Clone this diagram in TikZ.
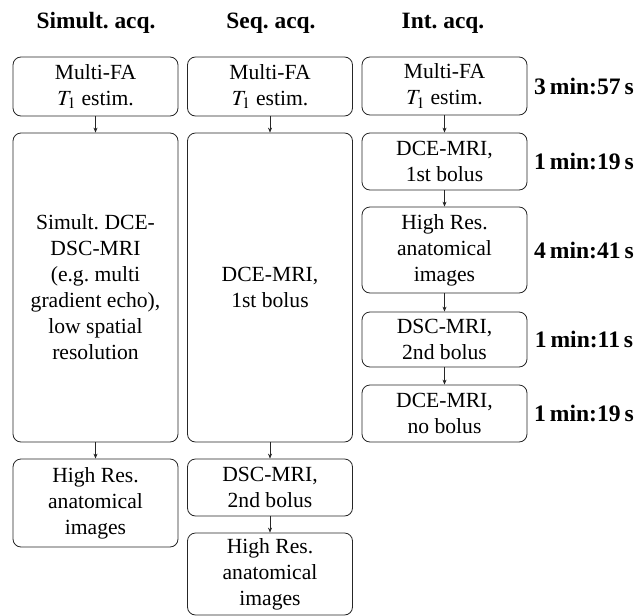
\documentclass[tikz,border=0pt]{standalone}
\usepackage{mathptmx}
\usepackage{fontspec}
\setmainfont{Liberation Serif}
\usetikzlibrary{arrows.meta}
\begin{document}
\begin{tikzpicture}[x=1pt,y=-1pt,
  box/.style={draw=black!85, line width=0.8pt, rounded corners=8pt, minimum width=165pt, inner sep=0pt, align=center, font=\fontsize{21.6}{26}\selectfont},
  hdr/.style={font=\fontsize{23.4}{28}\selectfont\bfseries},
  tm/.style={font=\fontsize{23.6}{28}\selectfont\bfseries},
  arr/.style={-{Stealth[length=5pt,width=4pt]}, line width=0.6pt, draw=black!85}]
\useasboundingbox (0,0) rectangle (638,616);
% headers
\node[hdr] (h1) at (96,23) {Simult.\ acq.};
\node[hdr] (h2) at (271,23) {Seq.\ acq.};
\node[hdr] (h3) at (443,23) {Int.\ acq.};
% column 1
\node[box, minimum height=59pt] (A1) at (95.5,86.5) {Multi-FA\\$T_1$ estim.};
\node[box, minimum height=309pt] (A2) at (95.5,287.5) {Simult.\ DCE-\\DSC-MRI\\(e.g.\ multi\\gradient echo),\\low spatial\\resolution};
\node[box, minimum height=88pt] (A3) at (95.5,503) {High Res.\\anatomical\\images};
% column 2
\node[box, minimum height=59pt] (B1) at (270,86.5) {Multi-FA\\$T_1$ estim.};
\node[box, minimum height=309pt] (B2) at (270,287.5) {DCE-MRI,\\1st bolus};
\node[box, minimum height=57pt] (B3) at (270,487.5) {DSC-MRI,\\2nd bolus};
\node[box, minimum height=82pt] (B4) at (270,574) {High Res.\\anatomical\\images};
% column 3
\node[box, minimum height=58pt] (C1) at (444.5,86) {Multi-FA\\$T_1$ estim.};
\node[box, minimum height=57pt] (C2) at (444.5,161.5) {DCE-MRI,\\1st bolus};
\node[box, minimum height=86pt] (C3) at (444.5,250) {High Res.\\anatomical\\images};
\node[box, minimum height=55pt] (C4) at (444.5,339.5) {DSC-MRI,\\2nd bolus};
\node[box, minimum height=57pt] (C5) at (444.5,413.5) {DCE-MRI,\\no bolus};
% times
\node[tm] (t1) at (584,86) {3\,min:57\,s};
\node[tm] (t2) at (584,161.5) {1\,min:19\,s};
\node[tm] (t3) at (584,250) {4\,min:41\,s};
\node[tm] (t4) at (584,339.5) {1\,min:11\,s};
\node[tm] (t5) at (584,413.5) {1\,min:19\,s};
% arrows
\draw[arr] (A1.south) -- (A2.north);
\draw[arr] (A2.south) -- (A3.north);
\draw[arr] (B1.south) -- (B2.north);
\draw[arr] (B2.south) -- (B3.north);
\draw[arr] (B3.south) -- (B4.north);
\draw[arr] (C1.south) -- (C2.north);
\draw[arr] (C2.south) -- (C3.north);
\draw[arr] (C3.south) -- (C4.north);
\draw[arr] (C4.south) -- (C5.north);
\end{tikzpicture}
\end{document}
